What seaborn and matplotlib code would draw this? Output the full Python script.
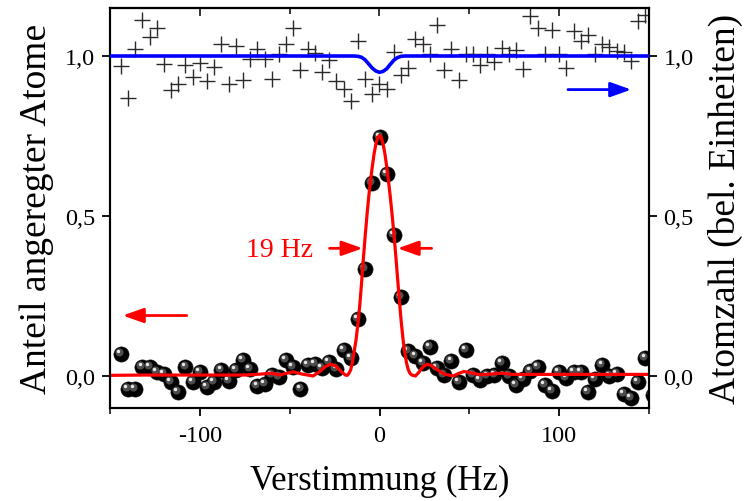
import numpy as np
import pandas as pd
import matplotlib
matplotlib.use("Agg")
import matplotlib.pyplot as plt
import seaborn as sns
from matplotlib.ticker import FixedLocator, FuncFormatter
from matplotlib.transforms import offset_copy

# ---------------- data ----------------
detuning = [-144, -140, -136, -132, -128, -124, -120, -116, -112, -108, -104, -100,
            -96, -92, -88, -84, -80, -76, -72, -68, -64, -60, -56, -52, -48, -44,
            -40, -36, -32, -28, -24, -20, -16, -12, -8, -4, 0, 4, 8, 12, 16, 20,
            24, 28, 32, 36, 40, 44, 48, 52, 56, 60, 64, 68, 72, 76, 80, 84, 88,
            92, 96, 100, 104, 108, 112, 116, 120, 124, 128, 132, 136, 140, 144,
            148, 152]
excited = [0.069, -0.040, -0.040, 0.028, 0.028, 0.013, 0.006, -0.019, -0.050, 0.028,
           -0.019, 0.013, -0.034, -0.019, 0.019, -0.016, 0.019, 0.050, 0.022, -0.031,
           -0.025, 0.003, -0.003, 0.050, 0.028, -0.040, 0.034, 0.037, 0.025, 0.044,
           0.022, 0.081, 0.056, 0.178, 0.334, 0.603, 0.748, 0.631, 0.440, 0.247,
           0.078, 0.063, 0.040, 0.090, 0.025, 0.003, 0.047, -0.020, 0.081, 0.003,
           -0.013, 0.000, 0.003, 0.040, 0.000, -0.028, -0.009, 0.016, 0.028, -0.028,
           -0.047, 0.012, -0.006, 0.012, 0.013, -0.050, -0.009, 0.034, 0.000, 0.006,
           -0.056, -0.069, -0.019, 0.056, -0.060]

atom_detuning = detuning[:74]
atom_number = [0.968, 0.869, 1.022, 1.112, 1.058, 1.088, 0.975, 0.894, 0.912, 0.972,
               0.935, 0.978, 0.923, 0.967, 1.037, 0.912, 1.032, 0.926, 0.990, 1.022,
               0.992, 0.928, 1.006, 1.039, 1.089, 0.957, 1.022, 1.008, 0.951, 0.988,
               0.923, 0.898, 0.860, 1.048, 0.928, 0.880, 0.912, 0.898, 1.011, 0.940,
               0.964, 1.053, 1.037, 1.006, 1.097, 0.956, 1.022, 0.925, 1.006, 1.006,
               0.972, 1.006, 0.982, 1.024, 1.006, 1.019, 0.959, 1.126, 1.086, 1.006,
               1.081, 1.006, 0.964, 1.077, 1.048, 1.066, 1.006, 1.037, 1.029, 1.017,
               1.011, 0.985, 1.108, 1.128]

fit_x = [-150, -130, -110, -90, -75, -66, -60, -56, -52, -48, -43, -37, -33, -30,
         -27, -24, -21, -19, -18, -17, -16, -15, -14, -13, -12, -11, -10, -9, -8,
         -7, -6, -5, -4, -3, -2, -1, 0, 1, 2, 3, 4, 5, 6, 7, 8, 9, 10, 11, 12, 13,
         14, 15, 16, 17, 18, 20, 22, 24, 26.5, 29, 32, 36, 41, 44, 47, 51, 56, 62,
         68, 74, 85, 100, 120, 150]
fit_y = [0.002, 0.003, 0.003, 0.003, 0.003, 0.006, 0.009, 0.003, 0.008, 0.013,
         0.006, 0.000, 0.015, 0.030, 0.037, 0.030, 0.012, 0.003, 0.002, 0.008,
         0.020, 0.045, 0.080, 0.115, 0.165, 0.220, 0.290, 0.365, 0.435, 0.500,
         0.560, 0.610, 0.655, 0.695, 0.725, 0.745, 0.752, 0.745, 0.725, 0.695,
         0.655, 0.610, 0.560, 0.505, 0.445, 0.380, 0.310, 0.240, 0.175, 0.120,
         0.075, 0.042, 0.020, 0.008, 0.003, 0.000, 0.012, 0.028, 0.037, 0.032,
         0.020, 0.006, 0.000, 0.008, 0.014, 0.010, 0.004, 0.006, 0.009, 0.005,
         0.005, 0.005, 0.005, 0.005]

atom_fit_x = [-150, -14, -12, -10, -8, -6, -4, -2, 0, 2, 4, 6, 8, 10, 12, 14, 150]
atom_fit_y = [1.0, 1.0, 0.999, 0.996, 0.988, 0.975, 0.962, 0.953, 0.949, 0.952,
              0.960, 0.974, 0.987, 0.995, 0.999, 1.0, 1.0]

yticks = [0.0, 0.5, 1.0]
xticks = [-100, 0, 100]
xminor = [-150, -50, 50, 150]

# ---------------- style ----------------
sns.set_theme(style="ticks")
plt.rcParams["font.family"] = ["Liberation Serif", "DejaVu Serif"]
plt.rcParams["axes.linewidth"] = 1.5

fig = plt.figure(figsize=(7.53, 5.02), dpi=100)
ax = fig.add_axes([110 / 753, 1 - 409 / 502, 539 / 753, 400 / 502])

df_exc = pd.DataFrame({"Verstimmung": detuning, "Anteil": excited})

# shaded spheres
sns.scatterplot(data=df_exc, x="Verstimmung", y="Anteil", ax=ax, s=120,
                color="black", edgecolor="#111111", linewidth=0.4, zorder=3,
                legend=False)
tr1 = offset_copy(ax.transData, fig=fig, x=-1.4, y=1.5, units="points")
ax.scatter(detuning, excited, s=34, color="#4d4d4d", lw=0, transform=tr1, zorder=3.1)
tr2 = offset_copy(ax.transData, fig=fig, x=-2.0, y=2.2, units="points")
ax.scatter(detuning, excited, s=6, color="#e8e8e8", lw=0, transform=tr2, zorder=3.2)

sns.lineplot(x=fit_x, y=fit_y, ax=ax, color="#ff0000", lw=2.3, sort=False,
             estimator=None, zorder=4)

ax2 = ax.twinx()
sns.scatterplot(x=atom_detuning, y=atom_number, ax=ax2, marker="+", s=120,
                color="#2a2a2a", linewidth=1.0, zorder=2, legend=False)
sns.lineplot(x=atom_fit_x, y=atom_fit_y, ax=ax2, color="#0000ff", lw=2.6,
             sort=False, estimator=None, zorder=3)

# limits and ticks
for a in (ax, ax2):
    a.set_xlim(-150, 150)
    a.set_ylim(-0.1, 1.15)
    a.set_yticks(yticks)
    a.yaxis.set_major_formatter(FuncFormatter(lambda v, p: f"{v:.1f}".replace(".", ",")))
    for s in a.spines.values():
        s.set_linewidth(1.5)
        s.set_color("black")

ax.set_xticks(xticks)
ax.xaxis.set_minor_locator(FixedLocator(xminor))
ax.xaxis.set_major_formatter(FuncFormatter(lambda v, p: f"{v:.0f}"))
ax.tick_params(axis="x", which="major", direction="out", length=6, width=1.3,
               labelsize=17.5, top=False, bottom=True, pad=6, colors="black")
ax.tick_params(axis="x", which="minor", direction="out", length=4.5, width=1.3,
               top=False, bottom=True)
ax.tick_params(axis="y", which="major", direction="out", length=5.5, width=1.3,
               labelsize=17.5, pad=5, colors="black")
ax2.tick_params(axis="y", which="major", direction="out", length=5.5, width=1.3,
                labelsize=17.5, pad=5, colors="black")

top = ax.secondary_xaxis("top")
top.set_xticks(xticks)
top.xaxis.set_minor_locator(FixedLocator(xminor))
top.tick_params(axis="x", which="major", direction="in", length=6, width=1.3,
                labeltop=False)
top.tick_params(axis="x", which="minor", direction="in", length=4.5, width=1.3)
top.spines["top"].set_linewidth(1.5)

ax.set_xlabel("Verstimmung (Hz)", fontsize=25, labelpad=13, color="black")
ax.set_ylabel("Anteil angeregter Atome", fontsize=27, labelpad=8, color="black")
ax2.set_ylabel("Atomzahl (bel. Einheiten)", fontsize=27, labelpad=10,
               rotation=90, color="black")

# annotations
arrow_red = dict(arrowstyle="-|>,head_length=0.9,head_width=0.32", color="#ff0000",
                 lw=2.0, shrinkA=0, shrinkB=0, mutation_scale=14)
ax.annotate("", xy=(-142.9, 0.189), xytext=(-107.3, 0.189), arrowprops=arrow_red,
            zorder=5)
ax.annotate("", xy=(-9.4, 0.399), xytext=(-27.8, 0.399), arrowprops=arrow_red,
            zorder=5)
ax.annotate("", xy=(10.1, 0.399), xytext=(29.0, 0.399), arrowprops=arrow_red,
            zorder=5)
ax.text(-37, 0.395, "19 Hz", color="#ff0000", fontsize=20, ha="right", va="center")

arrow_blue = dict(arrowstyle="-|>,head_length=0.9,head_width=0.32", color="#0000ff",
                  lw=2.0, shrinkA=0, shrinkB=0, mutation_scale=14)
ax2.annotate("", xy=(140.1, 0.895), xytext=(104.9, 0.895), arrowprops=arrow_blue,
             zorder=5)

fig.savefig("out.png", dpi=100)
